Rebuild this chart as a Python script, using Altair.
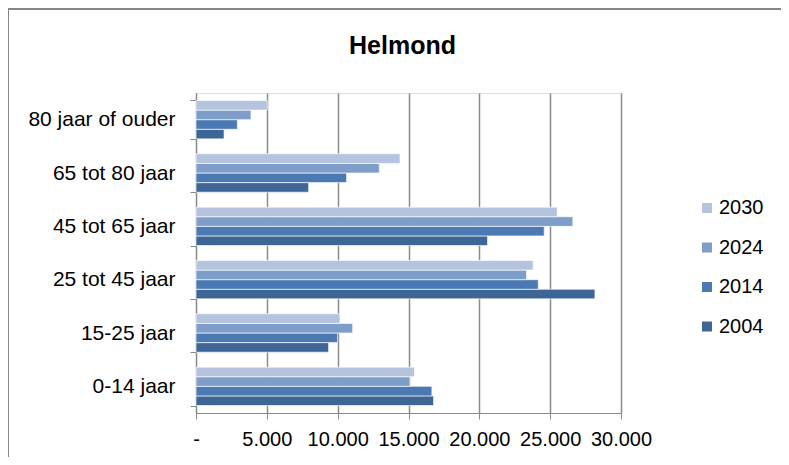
import altair as alt
import pandas as pd

categories = ["0-14 jaar", "15-25 jaar", "25 tot 45 jaar", "45 tot 65 jaar", "65 tot 80 jaar", "80 jaar of ouder"]
years = ["2030", "2024", "2014", "2004"]
v2004 = [16770, 9360, 28160, 20580, 7950, 1980]
v2014 = [16650, 10000, 24160, 24580, 10630, 2920]
v2024 = [15100, 11060, 23330, 26600, 12940, 3880]
v2030 = [15430, 10160, 23800, 25500, 14400, 5030]
x_ticks = [0, 5000, 10000, 15000, 20000, 25000, 30000]
colors = ["#B4C3DE", "#7F9DC9", "#4A79B3", "#3D6596"]

series = {"2004": v2004, "2014": v2014, "2024": v2024, "2030": v2030}
rows = []
for yr, vals in series.items():
    for c, v in zip(categories, vals):
        rows.append({"cat": c, "year": yr, "value": v})
df = pd.DataFrame(rows)

FONT = "Liberation Sans"

bars = alt.Chart(df).mark_bar(stroke="white", strokeWidth=0.8, strokeOpacity=0.8).encode(
    y=alt.Y("cat:N", sort=categories[::-1],
            scale=alt.Scale(paddingInner=0.28, paddingOuter=0.14),
            axis=alt.Axis(title=None, grid=False, tickBand="extent", tickSize=6,
                          labelPadding=15, labelFontSize=21, labelFont=FONT,
                          labelColor="black", domainColor="#888888", tickColor="#888888")),
    yOffset=alt.YOffset("year:N", sort=years, scale=alt.Scale(domain=years, paddingInner=0, paddingOuter=0)),
    x=alt.X("value:Q", scale=alt.Scale(domain=[0, 30000], nice=False),
            axis=alt.Axis(title=None, values=x_ticks, grid=True, gridColor="#8C8C8C", gridWidth=1.5,
                          tickSize=6, tickColor="#888888", domainColor="#888888",
                          labelPadding=10, labelFontSize=20, labelFont=FONT, labelColor="black",
                          labelOverlap=False, labelFlush=False,
                          labelExpr="datum.value == 0 ? '-\u00a0\u00a0\u00a0' : replace(format(datum.value, ','), ',', '.')")),
    color=alt.Color("year:N", sort=years,
                    scale=alt.Scale(domain=years, range=colors),
                    legend=alt.Legend(title=None, orient="none", legendX=501, legendY=105,
                                      symbolType="square", symbolSize=100, symbolStrokeWidth=0,
                                      labelFontSize=20, labelFont=FONT, labelColor="black",
                                      labelOffset=2, rowPadding=19.5, padding=0)),
)

frame_top = alt.Chart(df).mark_rule(color="#868686", strokeWidth=1.5).encode(
    x=alt.value(-188), x2=alt.value(620), y=alt.value(-84))
frame_left = alt.Chart(df).mark_rule(color="#868686", strokeWidth=1.5).encode(
    x=alt.value(-188), y=alt.value(-84), y2=alt.value(400))

chart = alt.layer(frame_top, frame_left, bars).properties(
    width=425, height=320,
    title=alt.Title("Helmond", font=FONT, fontSize=25, fontWeight="bold", color="black",
                    anchor="middle", dx=-6, offset=-71, baseline="alphabetic"),
    autosize=alt.AutoSizeParams(type="none"),
    padding={"left": 188, "top": 85, "right": 160, "bottom": 44},
).configure_view(stroke=None).configure(background="white")

chart.save("out.html", embed_options={"renderer": "svg", "actions": False})
